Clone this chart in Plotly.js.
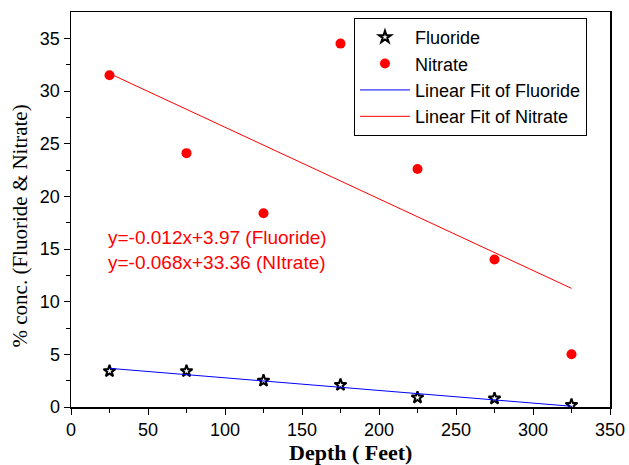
<!DOCTYPE html>
<html><head><meta charset="utf-8">
<script src="https://cdn.plot.ly/plotly-3.0.1.min.js"></script>
<style>body{margin:0;padding:0;background:#fff}</style>
</head><body>
<div id="chart" style="width:629px;height:465px"></div>
<script>
const depth = [25, 75, 125, 175, 225, 275, 325];
const fluoride = [3.4, 3.4, 2.5, 2.1, 0.9, 0.8, 0.2];
const nitrate = [31.5, 24.1, 18.4, 34.5, 22.6, 14.0, 5.0];
const fitX = [25, 325];
const fitFluoride = [3.67, 0.07];
const fitNitrate = [31.66, 11.26];
const eqLines = ["y=-0.012x+3.97 (Fluoride)", "y=-0.068x+33.36 (NItrate)"];
const xTitle = "Depth ( Feet)";
const yTitle = "% conc. (Fluoride &amp; Nitrate)";

const SANS = "'Liberation Sans', Arial, sans-serif";
const SERIF = "'Liberation Serif', 'Times New Roman', serif";

const traces = [
  {x: depth, y: fluoride, mode: 'markers', type: 'scatter', name: 'Fluoride',
   marker: {symbol: 'star-open', size: 9, color: '#000', line: {width: 2, color: '#000'}}},
  {x: depth, y: nitrate, mode: 'markers', type: 'scatter', name: 'Nitrate',
   marker: {symbol: 'circle', size: 10, color: '#ff0000'}},
  {x: fitX, y: fitFluoride, mode: 'lines', type: 'scatter', name: 'Linear Fit of Fluoride',
   line: {color: '#0000ff', width: 1}},
  {x: fitX, y: fitNitrate, mode: 'lines', type: 'scatter', name: 'Linear Fit of Nitrate',
   line: {color: '#ff0000', width: 1}}
];

const layout = {
  width: 629, height: 465,
  margin: {l: 71, r: 19, t: 12, b: 58},
  paper_bgcolor: '#fff', plot_bgcolor: '#fff',
  font: {family: SANS, size: 18, color: '#000'},
  showlegend: true,
  legend: {x: 0.525, y: 0.985, xanchor: 'left', yanchor: 'top',
    bordercolor: '#000', borderwidth: 1, bgcolor: '#fff',
    font: {size: 18, family: SANS},
    tracegroupgap: 0, itemwidth: 50},
  xaxis: {range: [0, 350], tickvals: [0,50,100,150,200,250,300,350],
    ticks: 'outside', ticklen: 6, tickwidth: 1, tickcolor: '#000',
    minor: {tickvals: [25,75,125,175,225,275,325], ticks: 'outside', ticklen: 4, tickcolor: '#000'},
    showline: true, linecolor: '#000', linewidth: 1.5, mirror: true,
    showgrid: false, zeroline: false,
    tickfont: {size: 18, family: SANS}},
  yaxis: {range: [0, 37.5], tickvals: [0,5,10,15,20,25,30,35],
    ticks: 'outside', ticklen: 6, tickwidth: 1, tickcolor: '#000',
    minor: {tickvals: [2.5,7.5,12.5,17.5,22.5,27.5,32.5], ticks: 'outside', ticklen: 4, tickcolor: '#000'},
    showline: true, linecolor: '#000', linewidth: 1.5, mirror: true,
    showgrid: false, zeroline: false,
    tickfont: {size: 18, family: SANS}},
  annotations: [
    {x: 0.065, y: 0.46, xref: 'paper', yref: 'paper', xanchor: 'left', yanchor: 'top', align: 'left',
     showarrow: false, text: eqLines.join('<br>'), font: {color: '#ff0000', size: 19, family: SANS}},
    {x: 0.519, y: -0.116, xref: 'paper', yref: 'paper', xanchor: 'center', yanchor: 'middle',
     showarrow: false, borderpad: 0, text: '<b>' + xTitle + '</b>', font: {family: SERIF, size: 22}},
    {x: -0.0946, y: 0.457, xref: 'paper', yref: 'paper', xanchor: 'center', yanchor: 'middle',
     showarrow: false, borderpad: 0, textangle: -90, text: yTitle, font: {family: SERIF, size: 21}}
  ]
};
Plotly.newPlot('chart', traces, layout, {displayModeBar: false, staticPlot: true});
</script>
</body></html>
